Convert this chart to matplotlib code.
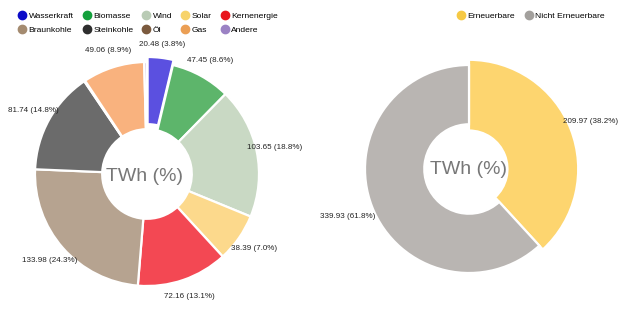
import numpy as np
import matplotlib.pyplot as plt
from matplotlib.lines import Line2D

plt.rcParams['font.family'] = ['Liberation Sans', 'DejaVu Sans']

# Stromerzeugung nach Quelle (TWh)
quellen = ['Wasserkraft', 'Biomasse', 'Wind', 'Solar', 'Kernenergie',
           'Braunkohle', 'Steinkohle', 'Öl', 'Gas', 'Andere']
werte = [20.48, 47.45, 103.65, 38.39, 72.16, 133.98, 81.74, 0.8, 49.06, 2.19]
prozent = [3.8, 8.6, 18.8, 7.0, 13.1, 24.3, 14.8, None, 8.9, None]
farben_legende = ['#0b0bc8', '#14a03c', '#b9cbb5', '#f7d36a', '#e8141c',
                  '#a48b70', '#2e2e2e', '#7b5a3e', '#eb9f55', '#9b82c4']
farben = ['#5b50e0', '#5db56b', '#c9d9c4', '#fcd98c', '#f34853',
          '#b6a390', '#6b6b6b', '#cdb9a5', '#f9b27e', '#c7bcdf']

gruppen = ['Erneuerbare', 'Nicht Erneuerbare']
gruppen_werte = [209.97, 339.93]
gruppen_prozent = [38.2, 61.8]
gruppen_farben_legende = ['#f6c944', '#a3a09d']
gruppen_farben = ['#fdd56f', '#b9b5b2']

W, H = 630, 314
fig = plt.figure(figsize=(6.3, 3.14), dpi=100)


def donut_axes(cx, cy, R, h=150):
    ax = fig.add_axes([(cx - h) / W, (H - cy - h) / H, 2 * h / W, 2 * h / H])
    return ax, h / R


def beschriften(ax, wedges, texte, rl):
    for w, t in zip(wedges, texte):
        if t is None:
            continue
        a = np.deg2rad((w.theta1 + w.theta2) / 2)
        ax.text(rl * np.cos(a), rl * np.sin(a), t, ha='center', va='center',
                fontsize=5.8, color='#222222', clip_on=False)


# linkes Diagramm
ax1, lim1 = donut_axes(147, 174, 112)
explode = [0.045] + [0] * 9
wedges1, _ = ax1.pie(werte, colors=farben, startangle=90, counterclock=False,
                     explode=explode,
                     wedgeprops=dict(width=0.6, edgecolor='white', linewidth=1.6))
texte1 = [None if p is None else '%.2f (%.1f%%)' % (v, p) for v, p in zip(werte, prozent)]
beschriften(ax1, wedges1, texte1, 130 / 112)
ax1.text(-0.02, -0.02, 'TWh (%)', ha='center', va='center', fontsize=14, color='#777777')
ax1.set_xlim(-lim1, lim1)
ax1.set_ylim(-lim1, lim1)
ax1.set_aspect('equal')
ax1.axis('off')

# rechtes Diagramm
ax2, lim2 = donut_axes(469, 169, 104)
wedges2, _ = ax2.pie(gruppen_werte, colors=gruppen_farben, startangle=90, counterclock=False,
                     wedgeprops=dict(width=0.57, edgecolor='white', linewidth=1.6))
wedges2[0].set_radius(1.05)
wedges2[0].set_width(1.05 - 0.37)
texte2 = ['%.2f (%.1f%%)' % (v, p) for v, p in zip(gruppen_werte, gruppen_prozent)]
beschriften(ax2, wedges2, texte2, 130 / 104)
ax2.text(0, 0, 'TWh (%)', ha='center', va='center', fontsize=14, color='#777777')
ax2.set_xlim(-lim2, lim2)
ax2.set_ylim(-lim2, lim2)
ax2.set_aspect('equal')
ax2.axis('off')

# Legenden
def punkt(c):
    return Line2D([], [], marker='o', ls='', color=c, markersize=6)

reihenfolge = [0, 5, 1, 6, 2, 7, 3, 8, 4, 9]
fig.legend([punkt(farben_legende[i]) for i in reihenfolge],
           [quellen[i] for i in reihenfolge],
           loc='upper left', bbox_to_anchor=(19 / W, 1 - 12 / H), ncol=5,
           frameon=False, fontsize=6.1, handlelength=0.8, handletextpad=0.35,
           columnspacing=1.15, labelspacing=0.72, borderpad=0, borderaxespad=0)
fig.legend([punkt(c) for c in gruppen_farben_legende], gruppen,
           loc='upper left', bbox_to_anchor=(458 / W, 1 - 12 / H), ncol=2,
           frameon=False, fontsize=6.1, handlelength=0.8, handletextpad=0.35,
           columnspacing=1.15, borderpad=0, borderaxespad=0)

fig.savefig('out.png', dpi=100)
